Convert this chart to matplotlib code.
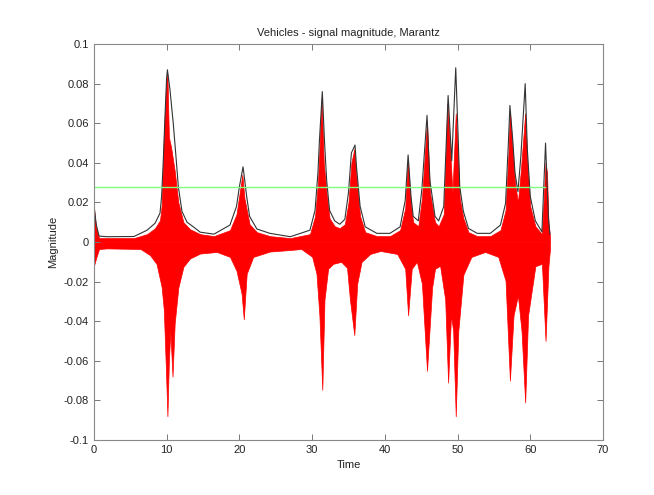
import numpy as np
import matplotlib
matplotlib.use("Agg")
from matplotlib import pyplot as plt

# black envelope (time s, magnitude)
t_env = [0, 0.3, 0.7, 1.8, 5.5, 7.3, 8.4, 9.08, 9.3, 9.53, 9.76, 9.99, 10.1, 10.45,
         10.9, 11.28, 11.6, 12.1, 12.8, 13.7, 14.6, 16.5, 18.7, 19.6, 20.0, 20.5,
         21.0, 21.4, 22.4, 24.2, 27, 29.7, 30.4, 30.8, 31.0, 31.4, 31.7, 32.0, 32.4,
         33.1, 33.8, 34.5, 35.0, 35.4, 35.9, 36.1, 36.6, 37.3, 38.9, 40.7, 42.1,
         42.8, 43.2, 43.6, 43.9, 44.6, 45.1, 45.8, 46.2, 46.9, 47.4, 48.1, 48.7,
         49.2, 49.75, 50.1, 50.3, 50.8, 51.5, 52.7, 54.5, 55.9, 56.6, 57.0, 57.2,
         57.6, 57.9, 58.3, 58.7, 59.3, 59.6, 60.0, 60.7, 61.6, 62.1, 62.5, 62.7]
env = [0.0187, 0.009, 0.003, 0.0027, 0.0028, 0.006, 0.0095, 0.0146, 0.023, 0.041,
       0.063, 0.083, 0.087, 0.077, 0.060, 0.043, 0.028, 0.0155, 0.010, 0.0076, 0.005,
       0.004, 0.0086, 0.018, 0.028, 0.038, 0.023, 0.013, 0.0066, 0.0044, 0.0027,
       0.006, 0.016, 0.035, 0.051, 0.076, 0.051, 0.031, 0.016, 0.0107, 0.009, 0.0115,
       0.025, 0.045, 0.049, 0.038, 0.018, 0.0077, 0.0044, 0.0044, 0.0077, 0.021,
       0.044, 0.023, 0.013, 0.0107, 0.027, 0.064, 0.031, 0.013, 0.0107, 0.018, 0.074,
       0.041, 0.088, 0.051, 0.028, 0.0155, 0.0069, 0.0044, 0.0044, 0.0086, 0.0195,
       0.051, 0.069, 0.051, 0.035, 0.0254, 0.043, 0.080, 0.0465, 0.023, 0.0107,
       0.0052, 0.050, 0.012, 0.004]

# red signal, positive side
t_hi = [0, 0.3, 0.7, 1.8, 5.5, 7.3, 8.4, 9.08, 9.3, 9.6, 9.9, 10.1, 10.3, 10.6, 11.1,
        11.6, 12.3, 13.2, 14.6, 16.5, 18.7, 19.6, 20.0, 20.4, 20.7, 21.4, 22.4, 24.2,
        27, 29.7, 30.4, 30.8, 31.0, 31.3, 31.6, 32.0, 32.4, 33.1, 33.8, 34.5, 35.0,
        35.4, 35.8, 36.1, 36.6, 37.3, 38.9, 40.7, 42.1, 42.8, 43.15, 43.6, 43.9,
        44.6, 45.1, 45.8, 46.2, 46.9, 47.4, 48.1, 48.6, 49.0, 49.3, 49.75, 50.1,
        50.3, 50.8, 51.5, 52.7, 54.5, 55.9, 56.6, 57.0, 57.2, 57.6, 57.9, 58.3, 58.7,
        59.3, 59.6, 60.0, 60.7, 61.6, 62.1, 62.3, 62.5, 62.7]
sig_hi = [0.017, 0.007, 0.002, 0.002, 0.002, 0.004, 0.007, 0.011, 0.018, 0.053, 0.078,
          0.085, 0.053, 0.048, 0.036, 0.02, 0.01, 0.0065, 0.004, 0.003, 0.006, 0.014,
          0.024, 0.034, 0.022, 0.009, 0.005, 0.003, 0.002, 0.004, 0.013, 0.03, 0.046,
          0.073, 0.04, 0.024, 0.012, 0.008, 0.007, 0.009, 0.02, 0.04, 0.047, 0.032,
          0.013, 0.005, 0.003, 0.003, 0.006, 0.017, 0.041, 0.018, 0.01, 0.008, 0.022,
          0.061, 0.025, 0.01, 0.008, 0.014, 0.07, 0.045, 0.025, 0.065, 0.04, 0.022,
          0.012, 0.005, 0.003, 0.003, 0.006, 0.016, 0.045, 0.066, 0.045, 0.03, 0.02,
          0.036, 0.065, 0.04, 0.018, 0.008, 0.004, 0.04, 0.035, 0.01, 0.003]

# red signal, negative side
t_lo = [0, 0.3, 0.7, 1.8, 6.4, 7.7, 8.6, 9.3, 9.6, 9.9, 10.1, 10.3, 10.5, 10.8, 11.1,
        11.6, 12.3, 13.2, 14.6, 16.9, 18.7, 19.6, 20.3, 20.6, 21.0, 21.9, 24.2, 27,
        28.5, 30.0, 30.6, 31.0, 31.4, 31.7, 32.2, 32.9, 34.0, 34.8, 35.2, 35.8, 36.2,
        36.8, 38.0, 39.4, 41.7, 42.8, 43.2, 43.7, 44.4, 45.1, 45.8, 46.5, 46.9, 47.6,
        48.3, 48.7, 49.1, 49.4, 49.75, 50.1, 50.8, 51.9, 53.8, 55.6, 56.6, 57.2, 57.7,
        58.3, 58.8, 59.3, 59.7, 60.7, 61.6, 62.1, 62.5, 62.7]
sig_lo = [-0.012, -0.008, -0.0035, -0.0032, -0.0035, -0.0066, -0.011, -0.0226, -0.034,
          -0.065, -0.088, -0.06, -0.045, -0.068, -0.041, -0.023, -0.0125, -0.0083,
          -0.0058, -0.005, -0.0075, -0.0145, -0.026, -0.039, -0.016, -0.0075, -0.0048,
          -0.004, -0.0035, -0.0074, -0.016, -0.037, -0.0747, -0.029, -0.0135, -0.011,
          -0.010, -0.013, -0.029, -0.047, -0.021, -0.010, -0.006, -0.0045, -0.006,
          -0.0135, -0.037, -0.0135, -0.010, -0.021, -0.065, -0.023, -0.0135, -0.012,
          -0.029, -0.071, -0.037, -0.045, -0.088, -0.045, -0.0165, -0.0075, -0.005,
          -0.0075, -0.0195, -0.070, -0.037, -0.027, -0.045, -0.081, -0.037, -0.0122,
          -0.011, -0.050, -0.012, -0.004]

thresh = 0.028
thresh_t = [0, 62]

xticks = [0, 10, 20, 30, 40, 50, 60, 70]
yticks = [-0.1, -0.08, -0.06, -0.04, -0.02, 0, 0.02, 0.04, 0.06, 0.08, 0.1]
ylabels = ["-0.1", "-0.08", "-0.06", "-0.04", "-0.02", "0", "0.02", "0.04", "0.06", "0.08", "0.1"]

plt.rcParams['font.family'] = ['Liberation Sans', 'DejaVu Sans']
fig = plt.figure(figsize=(6.54, 4.95), dpi=100)
ax = fig.add_axes([0.1437, 0.111, 0.7783, 0.8])

ax.fill_between(t_hi, 0, sig_hi, color='#ff0000', lw=0.5, edgecolor='#ff0000')
ax.fill_between(t_lo, sig_lo, 0, color='#ff0000', lw=0.5, edgecolor='#ff0000')
ax.plot(t_env, env, color='#333333', lw=0.8)
ax.plot(thresh_t, [thresh, thresh], color='#7fff7f', lw=1.0)

ax.set_xlim(0, 70)
ax.set_ylim(-0.1, 0.1)
ax.set_xticks(xticks)
ax.set_yticks(yticks)
ax.set_yticklabels(ylabels)
ax.tick_params(direction='in', top=True, right=True, labelsize=8, length=4,
               width=0.7, color='#777777', labelcolor='#222222')
for s in ax.spines.values():
    s.set_linewidth(0.8)
    s.set_color('#888888')
ax.set_title("Vehicles - signal magnitude, Marantz", fontsize=8, color='#222222')
ax.set_xlabel("Time", fontsize=8, color='#222222')
ax.set_ylabel("Magnitude", fontsize=8, color='#222222')

fig.savefig("out.png", dpi=100)
